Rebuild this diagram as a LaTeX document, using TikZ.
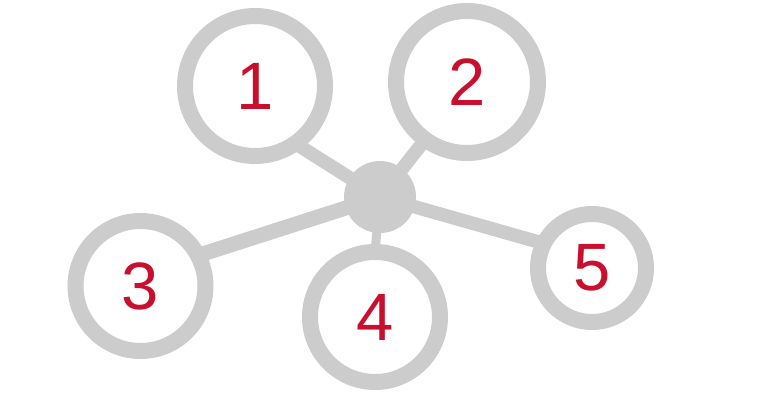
\documentclass[tikz,border=0pt]{standalone}
\usepackage{fontspec}
\setmainfont{Liberation Sans}
\usetikzlibrary{backgrounds}
\definecolor{ringgray}{RGB}{204,204,204}
\definecolor{numred}{RGB}{200,16,46}
\tikzset{
  ring/.style={circle, draw=ringgray, fill=white, line width=16pt, outer sep=0pt,
    inner sep=0pt, text=numred, font=\fontsize{67}{67}\selectfont},
  hub/.style={circle, fill=ringgray, minimum size=72pt, inner sep=0pt, outer sep=0pt},
  link/.style={draw=ringgray, line width=#1}
}
\begin{document}
\begin{tikzpicture}[x=1pt,y=-1pt]
\useasboundingbox (0,0) rectangle (768,406);
% centre disc
\node[hub] (hub) at (380,197) {};
% the five rings: name/x/y/radius
\foreach \n/\x/\y/\r in {1/255/86/70, 2/467/82/71, 3/140.5/286/65, 4/375/317/65, 5/592/268/54} {
  \node[ring, minimum size=2*\r pt] (c\n) at (\x,\y) {\n};
}
% spokes behind the rings: ring/anchor angle/width
\begin{scope}[on background layer]
\foreach \n/\a/\w in {1/-55/13.5pt, 2/234/13.5pt, 3/28/15pt, 4/90/9pt, 5/153/13.5pt} {
  \draw[link=\w] (hub.center) -- (c\n.\a);
}
\end{scope}
\end{tikzpicture}
\end{document}
